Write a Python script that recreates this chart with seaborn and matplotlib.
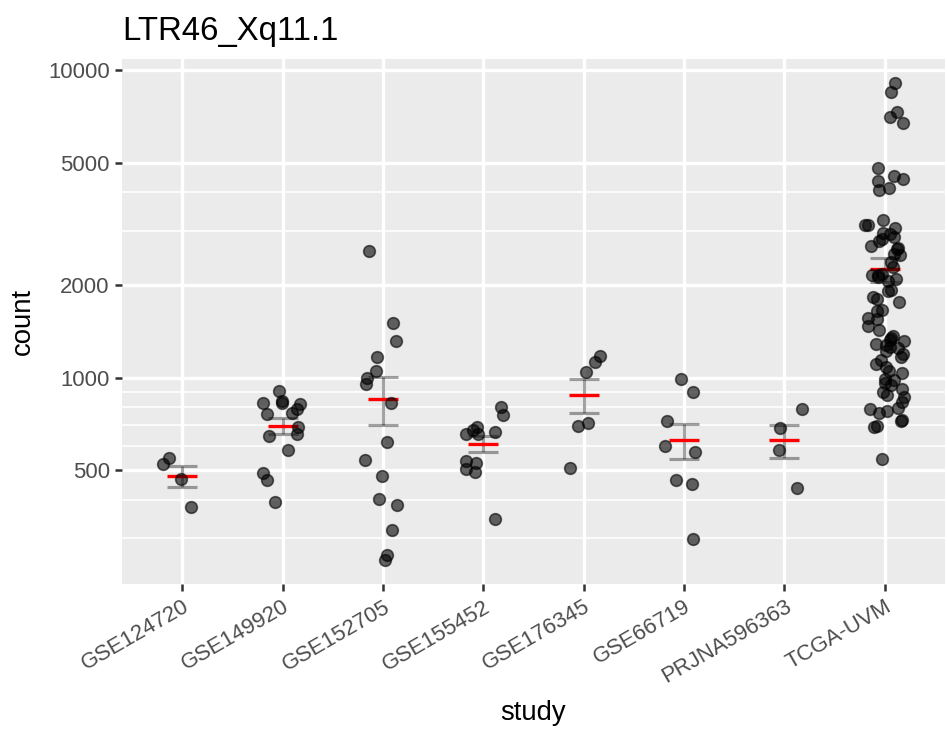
import numpy as np
import pandas as pd
import matplotlib
matplotlib.use("Agg")
import matplotlib.pyplot as plt
import seaborn as sns

# ---------------- data ----------------
studies = ["GSE124720", "GSE149920", "GSE152705", "GSE155452",
           "GSE176345", "GSE66719", "PRJNA596363", "TCGA-UVM"]

gse124720 = [549, 524, 467, 380]
gse149920 = [907, 838, 829, 826, 821, 789, 766, 760, 693, 655, 646, 581, 491, 464, 394]
gse152705 = [2588, 1506, 1319, 1170, 1051, 995, 956, 827, 618, 539, 478, 403, 385, 319, 265, 255]
gse155452 = [805, 755, 691, 676, 667, 655, 658, 535, 528, 506, 494, 347]
gse176345 = [1174, 1125, 1046, 712, 695, 510]
gse66719 = [992, 898, 725, 600, 572, 466, 452, 298]
prjna596363 = [791, 688, 581, 439]
tcga_uvm = [9087, 8475, 7328, 7028, 6750,
            4818, 4538, 4428, 4372, 4149, 4088,
            3257, 3145, 3130, 3075, 2955, 2940,
            2874, 2819, 2784, 2675, 2627, 2635,
            2519, 2506, 2384, 2296, 2158, 2094,
            2150, 2174, 2121, 2063, 1928, 1918,
            1799, 1834, 1767, 1652, 1657, 1564,
            1552, 1476, 1429, 1370, 1313, 1323,
            1290, 1349, 1261, 1246, 1224, 1170,
            1142, 1106, 1081, 1033, 985, 992,
            963, 947, 897, 877, 868, 835,
            799, 789, 779, 766, 725, 698,
            730, 690, 544,
            1190, 1050, 920, 1280]

major_breaks = [500, 1000, 2000, 5000, 10000]
minor_breaks = [300, 400, 600, 700, 800, 900, 3000, 4000]

title = "LTR46_Xq11.1"

# ---------------- assemble ----------------
groups = [gse124720, gse149920, gse152705, gse155452,
          gse176345, gse66719, prjna596363, tcga_uvm]
df = pd.DataFrame({
    "study": np.concatenate([[s] * len(g) for s, g in zip(studies, groups)]),
    "count": np.concatenate([np.asarray(g, dtype=float) for g in groups]),
})
stats = df.groupby("study")["count"].agg(["mean", "std", "count"]).reindex(studies)
stats["se"] = stats["std"] / np.sqrt(stats["count"])
pos = np.arange(len(studies))

# ---------------- figure ----------------
plt.rcParams["font.family"] = ["Liberation Sans", "DejaVu Sans"]
DPI = 150
fig = plt.figure(figsize=(947 / DPI, 729 / DPI), dpi=DPI)
L, R, T, B = 122 / 947, 945 / 947, 1 - 59 / 729, 1 - 584 / 729
ax = fig.add_axes([L, B, R - L, T - B])

np.random.seed(11)
sns.stripplot(data=df, x="study", y="count", order=studies, jitter=0.2,
              color="black", alpha=0.6, size=5.6, linewidth=0.8,
              edgecolor="black", ax=ax, zorder=4)

ax.set_yscale("log")

# error bars (mean +/- se) and red mean segments
ax.errorbar(pos, stats["mean"].values, yerr=stats["se"].values, fmt="none",
            ecolor=(0, 0, 0, 0.36), elinewidth=1.5, capsize=7.2,
            capthick=1.5, zorder=2)
ax.hlines(stats["mean"].values, pos - 0.15, pos + 0.15, color="red",
          linewidth=1.6, zorder=3)

# limits with 5% expansion in log space
lo, hi = np.log10(df["count"].min()), np.log10(df["count"].max())
pad = 0.05 * (hi - lo)
ax.set_ylim(10 ** (lo - pad), 10 ** (hi + pad))
ax.set_xlim(-0.6, len(studies) - 0.4)

# styling (ggplot2 theme_grey look)
ax.set_facecolor("#EBEBEB")
for sp in ax.spines.values():
    sp.set_visible(False)
ax.set_yticks(major_breaks, [str(v) for v in major_breaks])
ax.set_yticks(minor_breaks, minor=True)
ax.yaxis.set_minor_formatter(matplotlib.ticker.NullFormatter())
ax.set_xticks(pos, studies, rotation=30, ha="right", rotation_mode="anchor")

ax.grid(which="major", axis="both", color="white", linewidth=1.6, zorder=0)
ax.grid(which="minor", axis="y", color="white", linewidth=0.8, zorder=0)
ax.set_axisbelow(True)

ax.tick_params(which="major", length=3.3, width=1.2, color="#333333",
               labelcolor="#4D4D4D", labelsize=10.6, pad=2.6)
ax.tick_params(which="minor", length=0)

ax.set_xlabel("study", fontsize=13.2, color="black", labelpad=6)
ax.set_ylabel("count", fontsize=13.2, color="black", labelpad=6)
ax.set_title(title, loc="left", fontsize=15.8, color="black", pad=9)

fig.savefig("out.png", dpi=DPI)
